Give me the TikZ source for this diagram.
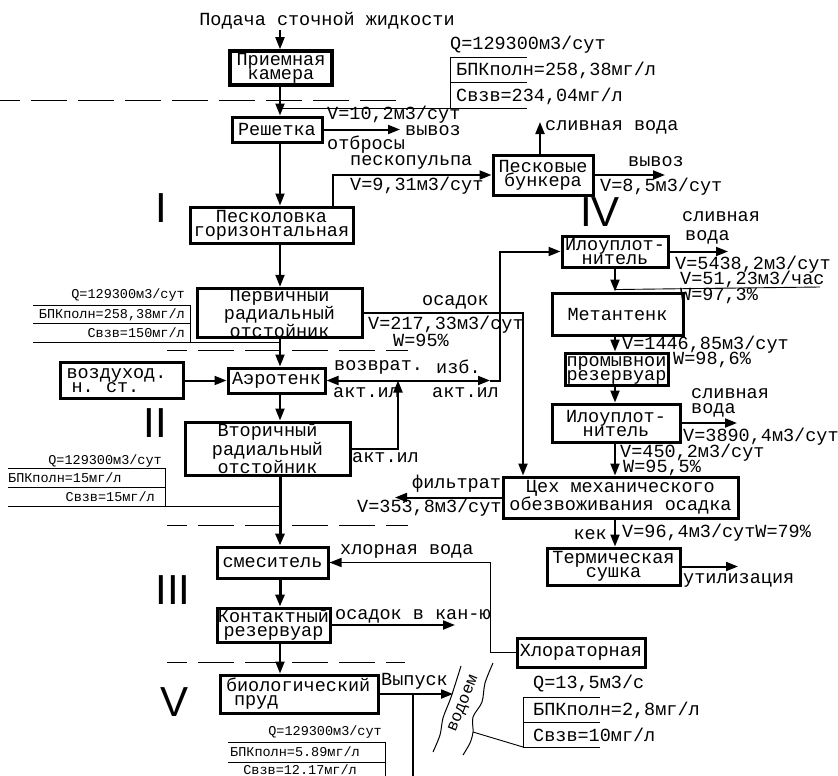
\documentclass[tikz,border=0pt]{standalone}
\usepackage{fontspec}
\newfontfamily\cadfont{Liberation Mono}
\newfontfamily\romfont{Liberation Sans}
\newcommand{\cad}{\cadfont\fontsize{18.5pt}{14pt}\selectfont}
\newcommand{\cadsm}{\cadfont\fontsize{13.5pt}{14pt}\selectfont}
\newcommand{\rom}{\romfont\fontsize{42pt}{42pt}\selectfont}
\usetikzlibrary{arrows.meta}

\tikzset{
  box/.style={draw, line width=3pt, align=center, font=\cad, inner sep=0pt},
  flow/.style={line width=2pt, -{Triangle[length=12pt,width=9pt]}},
  mainflow/.style={flow, line width=3pt},
  tabline/.style={line width=0.9pt},
  zone/.style={line width=1pt, dash pattern=on 36pt off 11pt, dash phase=16pt},
  lab/.style={font=\cad, inner sep=0pt},
  tab/.style={font=\cadsm, inner sep=0pt},
  numeral/.style={font=\rom, inner sep=0pt}
}

\begin{document}
\begin{tikzpicture}[x=1pt,y=-1pt]
\useasboundingbox (0,0) rectangle (838,776);

% ---- Main line boxes ----
\coordinate (axis) at (280,0);
\node[lab] (feed) at (327,21) {Подача сточной жидкости};
\node[box, line width=3.5pt, minimum width=102pt, minimum height=34pt] (priem) at (281,68) {Приемная\\камера};
\node[box, minimum width=90pt, minimum height=25pt] (resh) at (277,129.5) {Решетка};
\node[box, minimum width=163pt, minimum height=36pt] (pesk) at (271.5,225) {Песколовка\\горизонтальная};
\node[box, minimum width=100pt, minimum height=40pt] (bunk) at (543,175) {Песковые\\бункера};
\node[box, minimum width=165pt, minimum height=48pt] (perv) at (279.5,313) {Первичный\\радиальный\\отстойник};
\node[box, align=left, text width=110pt, minimum width=123pt, minimum height=36pt] (vozd) at (121.5,380.5) {воздуход.\\\hspace*{5pt}н.\ \ ст.};
\node[box, minimum width=97pt, minimum height=25pt] (aer) at (276.5,380.5) {Аэротенк};
\node[box, minimum width=165pt, minimum height=53pt] (vtor) at (267.5,448.5) {Вторичный\\радиальный\\отстойник};
\node[box, minimum width=111pt, minimum height=31pt] (smes) at (272.5,562.5) {смеситель};
\node[box, minimum width=113pt, minimum height=34pt] (kont) at (273.5,625) {Контактный\\резервуар};
\node[box, align=left, text width=146pt, minimum width=158pt, minimum height=38pt] (biol) at (299,694) {биологический\\\hspace*{8pt}пруд};

% ---- Sludge line boxes ----
\coordinate (rcol) at (615,0);
\node[box, minimum width=106pt, minimum height=31pt] (ilo1) at (615,251.5) {Илоуплот-\\нитель};
\node[box, minimum width=131pt, minimum height=42pt] (metan) at (617.5,314) {Метантенк};
\node[box, minimum width=103pt, minimum height=32pt] (prom) at (616.5,369) {промывной\\резервуар};
\node[box, minimum width=128pt, minimum height=38pt] (ilo2) at (616,423) {Илоуплот-\\нитель};
\node[box, minimum width=235pt, minimum height=41pt] (cekh) at (620.5,497.5) {Цех механического\\обезвоживания осадка};
\node[box, minimum width=133pt, minimum height=37pt] (term) at (613.5,566.5) {Термическая\\сушка};
\node[box, minimum width=128pt, minimum height=29pt] (chlor) at (581,652.5) {Хлораторная};

% ---- Main line arrows ----
\draw[flow] (feed.south -| axis) -- (priem.north -| axis);
\draw[flow] (priem.south -| axis) -- (resh.north -| axis);
\draw[flow] (resh.south -| axis) -- (pesk.north -| axis);
\draw[flow] (pesk.south -| axis) -- (perv.north -| axis);
\draw[flow] (perv.south -| axis) -- (aer.north -| axis);
\draw[flow] (aer.south -| axis) -- (vtor.north -| axis);
\draw[mainflow] (vtor.south -| axis) -- (smes.north -| axis);
\draw[mainflow] (smes.south -| axis) -- (kont.north -| axis);
\draw[flow] (kont.south -| axis) -- (biol.north -| axis);

% ---- Side arrows ----
\coordinate (reshout) at (400,129.5);
\draw[flow] (resh.east) -- (reshout);
\draw[flow] ([xshift=61.5pt]pesk.north) |- (bunk.west);
\coordinate (bunkup) at (540,122);
\draw[flow] (bunk.north -| bunkup) -- (bunkup);
\coordinate (bunkout) at (665,175);
\draw[flow] (bunk.east) -- (bunkout);

% osadok to dewatering
\coordinate (osad) at (523,0);
\draw[flow] (perv.east) -| (cekh.north -| osad);

% return and excess sludge
\coordinate (junc) at (398,380.5);
\coordinate (izb) at (490,380.5);
\coordinate (turn) at (500,380.5);
\draw[flow] (vtor.east) -| (junc);
\draw[flow] (junc) -- (aer.east);
\draw[flow] (junc) -- (izb);
\draw[flow] (izb) -- (turn) |- (ilo1.west);
\draw[flow] (vozd.east) -- (aer.west);

% sludge column
\coordinate (ilo1out) at (728,251.5);
\draw[flow] (ilo1.east) -- (ilo1out);
\draw[flow] (ilo1.south -| rcol) -- (metan.north -| rcol);
\draw[flow] (metan.south -| rcol) -- (prom.north -| rcol);
\draw[flow] (prom.south -| rcol) -- (ilo2.north -| rcol);
\coordinate (ilo2out) at (737,423);
\draw[flow] (ilo2.east) -- (ilo2out);
\draw[flow] (ilo2.south -| rcol) -- (cekh.north -| rcol);
\draw[flow] (cekh.south -| rcol) -- (term.north -| rcol);
\coordinate (filt) at (395,497.5);
\draw[flow] (cekh.west) -- (filt);
\coordinate (util) at (738,566.5);
\draw[flow] (term.east) -- (util);

% chlorine water
\draw[flow, line width=1.5pt] (chlor.west) -- ++(-25,0) |- (smes.east);
\coordinate (kontout) at (455,625);
\draw[flow] (kont.east) -- (kontout);
\coordinate (vyp) at (453,694);
\draw[flow] (biol.east) -- (vyp);
\coordinate (vypdown) at (413,694);
\draw[line width=1.3pt] (vypdown) -- (413,776);

% ---- Zone borders ----
\draw[zone] (0,100) -- (407,100);
\draw[zone] (167,350) -- (408,350);
\draw[zone] (167,525) -- (408,525);
\draw[zone] (167,662) -- (405,662);

% ---- Tables ----
\draw[tabline] (450,57) -- (527,57) (450,82) -- (527,82) (281,108) -- (527,108) (450,57) -- (450,108);
\draw[tabline] (33,305) -- (190,305) (33,323) -- (190,323) (33,342) -- (280,342) (190,305) -- (190,342);
\draw[tabline] (8,468) -- (165,468) (8,487) -- (165,487) (8,506) -- (280,506) (165,468) -- (165,506);
\draw[tabline] (228,742) -- (385,742) (228,762) -- (385,762) (385,742) -- (385,776);
\draw[tabline] (523,697) -- (600,697) (523,722) -- (600,722) (523,747) -- (600,747) (523,697) -- (523,747);
\draw[tabline] (473,732) -- (523,747);

% ---- River ----
\draw[line width=1pt] plot[smooth] coordinates {(461,666) (455,685) (450,700) (443,718) (440,735) (433,752)};
\draw[line width=1pt] plot[smooth] coordinates {(493,663) (485,683) (482,702) (473,717) (473,732) (470,743) (463,755)};
\node[lab, rotate=68, font=\cadfont\fontsize{16.5pt}{14pt}\selectfont] (river) at (464,704) {водоем};

% ---- Labels ----
\node[lab, anchor=west] (q1) at (450,45) {Q=129300м3/сут};
\node[lab, anchor=west] (b1) at (456,70) {БПКполн=258,38мг/л};
\node[lab, anchor=west] (c1) at (456,96) {Свзв=234,04мг/л};
\node[lab, anchor=west] (v1) at (327,115) {V=10,2м3/сут};
\node[lab, anchor=west] (vyv1) at (405,131) {вывоз};
\node[lab, anchor=west] (otbr) at (327,145) {отбросы};
\node[lab, anchor=west] (sliv1) at (545,127) {сливная вода};
\node[lab, anchor=west] (peskp) at (350,162) {пескопульпа};
\node[lab, anchor=west] (v2) at (350,186) {V=9,31м3/сут};
\node[lab, anchor=west] (vyv2) at (628,162) {вывоз};
\node[lab, anchor=west] (v3) at (600,187) {V=8,5м3/сут};
\node[lab, anchor=west] (osadok) at (422,302) {осадок};
\node[lab, anchor=west] (v4) at (368,325) {V=217,33м3/сут};
\node[lab, anchor=west] (w4) at (393,340) {W=95\%};
\node[tab, anchor=east] (q2) at (185,295) {Q=129300м3/сут};
\node[tab, anchor=east] (b2) at (185,315) {БПКполн=258,38мг/л};
\node[tab, anchor=east] (c2) at (185,333) {Свзв=150мг/л};
\node[lab, anchor=west] (vozvr) at (334,367) {возврат.};
\node[lab, anchor=west] (izbt) at (436,367) {изб.};
\node[lab, anchor=west] (ail1) at (333,393) {акт.ил};
\node[lab, anchor=west] (ail2) at (432,393) {акт.ил};
\node[lab, anchor=west] (ail3) at (352,458) {акт.ил};
\node[tab, anchor=east] (q3) at (162,461) {Q=129300м3/сут};
\node[tab, anchor=west] (b3) at (8,478) {БПКполн=15мг/л};
\node[tab, anchor=east] (c3) at (155,497) {Свзв=15мг/л};
\node[lab, anchor=west] (filtr) at (412,484) {фильтрат};
\node[lab, anchor=west] (v5) at (357,508) {V=353,8м3/сут};
\node[lab, anchor=west] (sliv2) at (682,217) {сливная};
\node[lab, anchor=west] (voda2) at (685,237) {вода};
\node[lab, anchor=west] (v6) at (675,265) {V=5438,2м3/сут};
\node[lab, anchor=west] (v7) at (680,279) {V=51,23м3/час};
\draw[tabline] (rcol |- v7.south) ++(0,2) -- (820,287);
\node[lab, anchor=west] (w7) at (680,296) {W=97,3\%};
\node[lab, anchor=west] (v8) at (622,345) {V=1446,85м3/сут};
\node[lab, anchor=west] (w8) at (673,360) {W=98,6\%};
\node[lab, anchor=west] (sliv3) at (691,394) {сливная};
\node[lab, anchor=west] (voda3) at (691,410) {вода};
\node[lab, anchor=west] (v9) at (683,437) {V=3890,4м3/сут};
\node[lab, anchor=west] (v10) at (620,453) {V=450,2м3/сут};
\node[lab, anchor=west] (w10) at (623,468) {W=95,5\%};
\node[lab, anchor=east] (kek) at (607,535) {кек};
\node[lab, anchor=west] (v11) at (622,533) {V=96,4м3/сутW=79\%};
\node[lab, anchor=west] (utl) at (683,580) {утилизация};
\node[lab, anchor=west] (chlw) at (340,551) {хлорная вода};
\node[lab, anchor=west] (osk) at (335,616) {осадок в кан-ю};
\node[lab, anchor=west] (vypt) at (381,681) {Выпуск};
\node[lab, anchor=west] (q4) at (533,684) {Q=13,5м3/с};
\node[lab, anchor=west] (b4) at (533,710) {БПКполн=2,8мг/л};
\node[lab, anchor=west] (c4) at (533,735) {Свзв=10мг/л};
\node[tab, anchor=east] (q5) at (382,732) {Q=129300м3/сут};
\node[tab, anchor=west] (b5) at (230,752) {БПКполн=5.89мг/л};
\node[tab, anchor=east] (c5) at (357,770) {Свзв=12.17мг/л};

% ---- Stage numbers ----
\node[numeral] (st1) at (161.5,208) {I};
\node[numeral] (st2) at (155,423) {II};
\node[numeral] (st3) at (173,590) {III};
\node[numeral] (st4) at (600,212) {IV};
\node[numeral] (st5) at (175,702) {V};

\end{tikzpicture}
\end{document}
